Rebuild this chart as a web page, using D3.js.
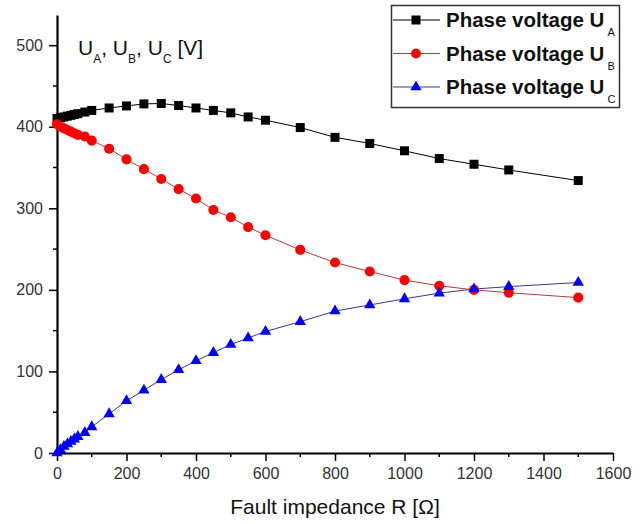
<!DOCTYPE html>
<html>
<head>
<script src="https://d3js.org/d3.v7.min.js"></script>
<style>
  body { margin: 0; background: #fff; font-family: 'Liberation Sans', Arial, sans-serif; }
  svg { display: block; }
</style>
</head>
<body>
<div id="chart"></div>
<script>
// Fault impedance R [Ohm]
const resistance = [0, 10, 20, 30, 40, 50, 60, 80, 100, 150, 200, 250, 300, 350, 400, 450, 500, 550, 600, 700, 800, 900, 1000, 1100, 1200, 1300, 1500];
// Phase voltages [V]
const phaseA = [410, 411, 412, 413, 414, 415, 416, 418, 420, 423, 425.5, 428, 428.5, 426, 423, 420, 417, 412, 408, 399, 387, 379.5, 370.5, 361, 354, 347, 334];
const phaseB = [403, 400, 398, 396, 394, 392, 390, 388, 383, 373, 360, 348, 336, 323.5, 312, 298, 289, 277, 267, 249, 233.5, 222.5, 212, 205, 200, 196.5, 190.5];
const phaseC = [0, 4, 8, 11, 14, 17, 20, 25, 32, 48, 64, 77, 90, 102, 113, 123, 133, 141, 149, 161, 174, 181.5, 189, 196, 201, 204, 209];

const xTicks = [0, 200, 400, 600, 800, 1000, 1200, 1400, 1600];
const yTicks = [0, 100, 200, 300, 400, 500];
const seriesNames = ["A", "B", "C"];

const width = 643, height = 524;
const margin = { top: 15, right: 30, bottom: 71, left: 57 };
const plotW = width - margin.left - margin.right;
const plotH = height - margin.top - margin.bottom;

const svg = d3.select("#chart").append("svg")
    .attr("width", width)
    .attr("height", height);

const g = svg.append("g")
    .attr("transform", `translate(${margin.left},${margin.top})`);

const x = d3.scaleLinear().domain([0, 1600]).range([0, plotW]);
const y = d3.scaleLinear().domain([0, 537]).range([plotH, 0]);

// minor ticks
const xMinor = d3.range(100, 1600, 200);
const yMinor = d3.range(50, 537, 100);

g.append("g").selectAll("line").data(xMinor).join("line")
    .attr("x1", d => x(d)).attr("x2", d => x(d))
    .attr("y1", plotH).attr("y2", plotH + 4)
    .attr("stroke", "#000").attr("stroke-width", 1.5);

g.append("g").selectAll("line").data(yMinor).join("line")
    .attr("x1", 0).attr("x2", -4)
    .attr("y1", d => y(d)).attr("y2", d => y(d))
    .attr("stroke", "#000").attr("stroke-width", 1.5);

// axes
const xAxis = g.append("g")
    .attr("transform", `translate(0,${plotH})`)
    .call(d3.axisBottom(x).tickValues(xTicks).tickFormat(d3.format("d"))
        .tickSize(8).tickSizeOuter(0).tickPadding(7));

const yAxis = g.append("g")
    .call(d3.axisLeft(y).tickValues(yTicks).tickFormat(d3.format("d"))
        .tickSize(8).tickSizeOuter(0).tickPadding(6));

[xAxis, yAxis].forEach(ax => {
    ax.select(".domain").attr("stroke", "#000").attr("stroke-width", 2.2);
    ax.selectAll(".tick line").attr("stroke", "#000").attr("stroke-width", 1.5);
    ax.selectAll(".tick text")
        .attr("fill", "#333")
        .style("font-family", "'Liberation Sans', Arial, sans-serif")
        .style("font-size", "16px");
});

// series
const series = [
    { key: "A", values: phaseA, line: "#000", fill: "#000", symbol: d3.symbolSquare, size: 81 },
    { key: "B", values: phaseB, line: "#b83a3a", fill: "#ff0000", symbol: d3.symbolCircle, size: 80 },
    { key: "C", values: phaseC, line: "#3a3a8a", fill: "#0000ff", symbol: d3.symbolTriangle, size: 56 }
];

const line = d3.line().x(d => x(d[0])).y(d => y(d[1]));

series.forEach(s => {
    const pts = resistance.map((r, i) => [r, s.values[i]]);
    g.append("path")
        .datum(pts)
        .attr("d", line)
        .attr("fill", "none")
        .attr("stroke", s.line)
        .attr("stroke-width", 1);
});

series.forEach(s => {
    const pts = resistance.map((r, i) => [r, s.values[i]]);
    g.append("g").selectAll("path").data(pts).join("path")
        .attr("transform", d => `translate(${x(d[0])},${y(d[1])})`)
        .attr("d", d3.symbol().type(s.symbol).size(s.size))
        .attr("fill", s.fill);
});

// y title
const yTitle = svg.append("text")
    .attr("x", 78).attr("y", 55)
    .attr("fill", "#111")
    .style("font-size", "21px");
seriesNames.forEach((n, i) => {
    yTitle.append("tspan").text((i ? ", " : "") + "U").attr("dy", i ? -8 : 0);
    yTitle.append("tspan").text(n).style("font-size", "12px").attr("dy", 8);
});
yTitle.append("tspan").text(" [V]").attr("dy", -8);

// x title
svg.append("text")
    .attr("x", margin.left + plotW / 2).attr("y", 514)
    .attr("text-anchor", "middle")
    .attr("fill", "#111")
    .style("font-size", "21px")
    .text("Fault impedance R [\u03A9]");

// legend
const legend = svg.append("g");
legend.append("rect")
    .attr("x", 391.5).attr("y", 5.5)
    .attr("width", 228).attr("height", 102)
    .attr("fill", "#fff").attr("stroke", "#333").attr("stroke-width", 1.5);

series.forEach((s, i) => {
    const cy = 20 + i * 33.5;
    legend.append("line")
        .attr("x1", 393).attr("x2", 440)
        .attr("y1", cy).attr("y2", cy)
        .attr("stroke", s.line).attr("stroke-width", 1);
    legend.append("path")
        .attr("transform", `translate(416,${cy})`)
        .attr("d", d3.symbol().type(s.symbol).size(s.size))
        .attr("fill", s.fill);
    const t = legend.append("text")
        .attr("x", 446).attr("y", cy + 7)
        .attr("fill", "#111");
    t.append("tspan").text("Phase voltage U")
        .style("font-size", "20.5px").style("font-weight", "bold");
    t.append("tspan").text(s.key)
        .attr("dx", 3).attr("dy", 9)
        .style("font-size", "11px");
});
</script>
</body>
</html>
